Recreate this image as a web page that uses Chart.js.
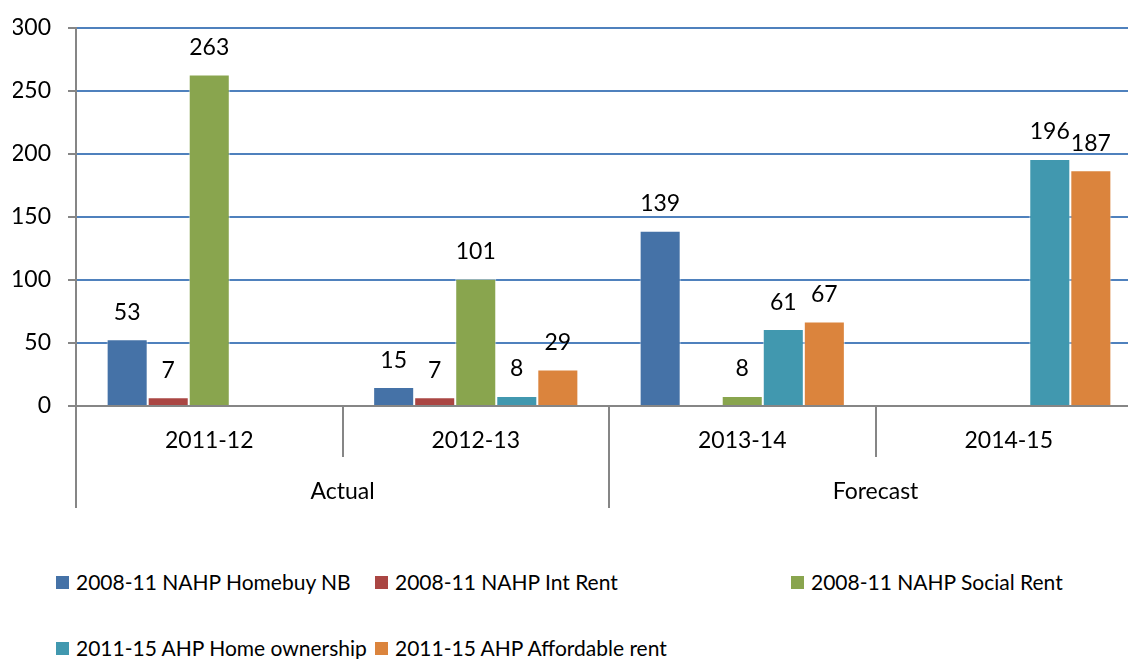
<!DOCTYPE html>
<html>
<head>
<meta charset="utf-8">
<script src="https://cdn.jsdelivr.net/npm/chart.js@4.4.1/dist/chart.umd.min.js"></script>
<style>
  html, body { margin: 0; padding: 0; overflow: hidden; background: #fff; }
  body { width: 1128px; height: 659px; position: relative; font-family: Lato, sans-serif; }
  #wrap { position: absolute; left: 0; top: -3px; width: 1142px; height: 523px; }
  #legend {
    position: absolute; left: 56px; top: 568px;
    display: grid; grid-template-columns: 319px 416px auto;
    row-gap: 38px;
    font-size: 21px; color: #000; line-height: 28px;
  }
  .item { display: flex; align-items: center; white-space: nowrap; }
  .box { width: 13px; height: 13px; margin-right: 7px; flex: none; }
</style>
</head>
<body>
<div id="wrap"><canvas id="housingChart"></canvas></div>
<div id="legend"></div>
<script>
const years = ['2011-12', '2012-13', '2013-14', '2014-15'];
const periods = [['Actual', 0, 2], ['Forecast', 2, 4]];

const seriesNames = [
    '2008-11 NAHP Homebuy NB',
    '2008-11 NAHP Int Rent',
    '2008-11 NAHP Social Rent',
    '2011-15 AHP Home ownership',
    '2011-15 AHP Affordable rent',
];
const homebuyNB = [53, 15, 139, null];
const intRent = [7, 7, null, null];
const socialRent = [263, 101, 8, null];
const homeOwnership = [null, 8, 61, 196];
const affordableRent = [null, 29, 67, 187];
const seriesColors = ['#4572A7', '#AA4643', '#89A54E', '#4198AF', '#DB843D'];

const yTicks = [0, 50, 100, 150, 200, 250, 300];

const FONT = 'Lato, sans-serif';
const AXIS_GREY = '#868686';

const allSeries = [homebuyNB, intRent, socialRent, homeOwnership, affordableRent];

// value labels above each bar
const valueLabels = {
    id: 'valueLabels',
    afterDatasetsDraw(chart) {
        const { ctx } = chart;
        ctx.save();
        ctx.fillStyle = '#000';
        ctx.font = '23px ' + FONT;
        ctx.textAlign = 'center';
        ctx.textBaseline = 'middle';
        chart.data.datasets.forEach((ds, di) => {
            const meta = chart.getDatasetMeta(di);
            meta.data.forEach((bar, i) => {
                const v = ds.data[i];
                if (v === null || v === undefined) return;
                ctx.fillText(String(v), bar.x, bar.y - 27);
            });
        });
        ctx.restore();
    },
};

// category separators and the Actual / Forecast group row
const groupAxis = {
    id: 'groupAxis',
    afterDraw(chart) {
        const { ctx, chartArea } = chart;
        const n = years.length;
        const w = (chartArea.right - chartArea.left) / n;
        const base = chartArea.bottom;
        ctx.save();
        ctx.strokeStyle = AXIS_GREY;
        ctx.lineWidth = 2;
        const groupEdges = new Set();
        periods.forEach(p => { groupEdges.add(p[1]); groupEdges.add(p[2]); });
        for (let i = 0; i <= n; i++) {
            const x = Math.round(chartArea.left + i * w);
            const len = groupEdges.has(i) ? 102 : 51;
            ctx.beginPath();
            ctx.moveTo(x, base);
            ctx.lineTo(x, base + len);
            ctx.stroke();
        }
        ctx.fillStyle = '#000';
        ctx.font = '23px ' + FONT;
        ctx.textAlign = 'center';
        ctx.textBaseline = 'middle';
        periods.forEach(([name, a, b]) => {
            const cx = chartArea.left + ((a + b) / 2) * w;
            ctx.fillText(name, cx, base + 86);
        });
        ctx.restore();
    },
};

const chart = new Chart(document.getElementById('housingChart'), {
    type: 'bar',
    data: {
        labels: years,
        datasets: seriesNames.map((name, i) => ({
            label: name,
            data: allSeries[i],
            backgroundColor: seriesColors[i],
            borderColor: 'rgba(255,255,255,0.6)',
            borderWidth: 1,
            barPercentage: 1,
            categoryPercentage: 0.77,
        })),
    },
    options: {
        responsive: true,
        maintainAspectRatio: false,
        animation: false,
        layout: { padding: { left: 13, top: 8, right: 0, bottom: 64 } },
        plugins: {
            legend: { display: false },
            tooltip: { enabled: false },
        },
        scales: {
            x: {
                grid: { display: false, drawTicks: false },
                border: { display: true, color: AXIS_GREY, width: 2 },
                ticks: { color: '#000', font: { family: FONT, size: 23 }, padding: 21 },
                afterFit(scale) { scale.height = 50; },
            },
            y: {
                min: 0,
                max: 300,
                afterBuildTicks(scale) {
                    scale.ticks = yTicks.map(v => ({ value: v }));
                },
                grid: {
                    color: ctx => (ctx.tick && ctx.tick.value === 0 ? AXIS_GREY : '#4F81BD'),
                    lineWidth: 2,
                    tickColor: AXIS_GREY,
                    tickLength: 8,
                },
                border: { display: true, color: AXIS_GREY, width: 2 },
                ticks: { color: '#000', font: { family: FONT, size: 23 }, padding: 17 },
                afterFit(scale) { scale.width = 63; },
            },
        },
    },
    plugins: [valueLabels, groupAxis],
});

// legend laid out as a three column grid
const legend = document.getElementById('legend');
seriesNames.forEach((name, i) => {
    const item = document.createElement('div');
    item.className = 'item';
    const box = document.createElement('span');
    box.className = 'box';
    box.style.background = seriesColors[i];
    const label = document.createElement('span');
    label.textContent = name;
    item.appendChild(box);
    item.appendChild(label);
    legend.appendChild(item);
});
</script>
</body>
</html>
